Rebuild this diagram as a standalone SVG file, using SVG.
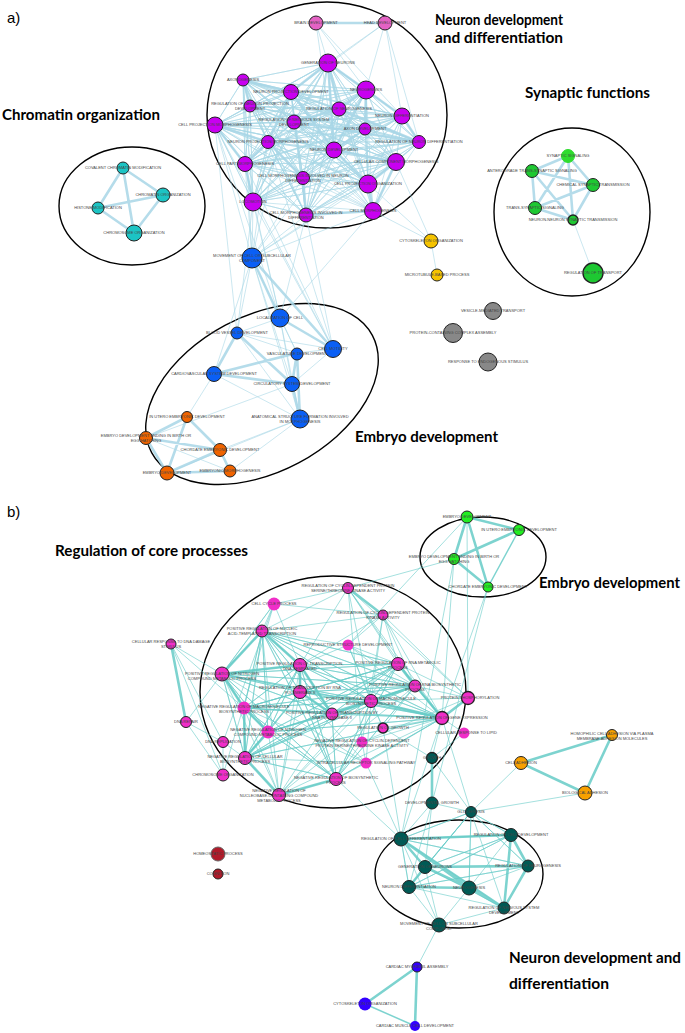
<svg xmlns="http://www.w3.org/2000/svg" width="685" height="1033" viewBox="0 0 685 1033">
<style>
.ea{fill:none;stroke:#a8d6e6;stroke-linejoin:round;stroke-linecap:round}
.eb{fill:none;stroke:#66cbc7;stroke-linejoin:round;stroke-linecap:round}
.w1{stroke-width:0.8;stroke-opacity:0.75}
.w2{stroke-width:1.5;stroke-opacity:0.85}
.w3{stroke-width:2.6;stroke-opacity:0.85}
.cl{fill:none;stroke:#000;stroke-width:1.4}
circle{stroke:#222;stroke-width:1}
text.l{font-family:"Liberation Sans",Arial,sans-serif;font-size:4px;fill:#444;text-anchor:middle}
text.t{font-family:Lato,"Open Sans","Liberation Sans",sans-serif;font-size:14.5px;font-weight:bold;fill:#000}
text.p{font-family:"Liberation Sans",Arial,sans-serif;font-size:15px;fill:#000}
.pu{fill:#c800f0}.pk{fill:#e462c4}.cy{fill:#1cc4c4}.gr{fill:#1ec832}.ye{fill:#f5c300}.gy{fill:#888}.bl{fill:#0a5ff5}.or{fill:#f06400}
.mg{fill:#f02ec8}.lg{fill:#22ee22}.og{fill:#f7a000}.te{fill:#005a55}.rd{fill:#b01a2a}.vi{fill:#3300ff}
</style>
<rect width="685" height="1033" fill="#fff"/>
<text class="p" x="7" y="23">a)</text>
<text class="p" x="7" y="517">b)</text>
<g id="cluster-outlines">
<ellipse class="cl" cx="327" cy="115" rx="120" ry="113"/>
<ellipse class="cl" cx="132" cy="206" rx="73" ry="59"/>
<ellipse class="cl" cx="572" cy="212" rx="78" ry="84"/>
<ellipse class="cl" cx="262" cy="394" rx="125" ry="78" transform="rotate(-28 262 394)"/>
<ellipse class="cl" cx="333" cy="692" rx="133" ry="116"/>
<ellipse class="cl" cx="483" cy="557" rx="63" ry="40"/>
<ellipse class="cl" cx="459" cy="874" rx="84" ry="54"/>
</g>
<g id="titles">
<text class="t" x="435" y="25" textLength="128" lengthAdjust="spacingAndGlyphs">Neuron development</text>
<text class="t" x="435" y="43" textLength="128" lengthAdjust="spacingAndGlyphs">and differentiation</text>
<text class="t" x="525" y="98" textLength="125" lengthAdjust="spacingAndGlyphs">Synaptic functions</text>
<text class="t" x="2" y="120" textLength="158" lengthAdjust="spacingAndGlyphs">Chromatin organization</text>
<text class="t" x="355" y="442" textLength="143" lengthAdjust="spacingAndGlyphs">Embryo development</text>
<text class="t" x="55" y="556" textLength="193" lengthAdjust="spacingAndGlyphs">Regulation of core processes</text>
<text class="t" x="539" y="588" textLength="141" lengthAdjust="spacingAndGlyphs">Embryo development</text>
<text class="t" x="509" y="963" textLength="172" lengthAdjust="spacingAndGlyphs">Neuron development and</text>
<text class="t" x="509" y="989" textLength="100" lengthAdjust="spacingAndGlyphs">differentiation</text>
</g>
<g id="connectors">
<path class="ea w1" d="M328 63 243 80 328 63 366 90 328 63 291 92 328 63 250 106 328 63 339 109 328 63 402 116 328 63 215 125 328 63 294 122 328 63 365 129 328 63 419 142 328 63 268 142 328 63 334 150 328 63 396 162 328 63 245 164 328 63 303 178 328 63 368 184 328 63 253 202 328 63 306 215 328 63 373 211
M243 80 366 90 243 80 291 92 243 80 250 106 243 80 339 109 243 80 402 116 243 80 215 125 243 80 294 122 243 80 365 129 243 80 419 142 243 80 268 142 243 80 334 150 243 80 396 162 243 80 245 164 243 80 303 178 243 80 368 184 243 80 253 202 243 80 306 215 243 80 373 211
M366 90 291 92 366 90 250 106 366 90 339 109 366 90 402 116 366 90 215 125 366 90 294 122 366 90 365 129 366 90 419 142 366 90 268 142 366 90 334 150 366 90 396 162 366 90 245 164 366 90 303 178 366 90 368 184 366 90 253 202 366 90 306 215 366 90 373 211
M291 92 250 106 291 92 339 109 291 92 402 116 291 92 215 125 291 92 294 122 291 92 365 129 291 92 419 142 291 92 268 142 291 92 334 150 291 92 396 162 291 92 245 164 291 92 303 178 291 92 368 184 291 92 253 202 291 92 306 215 291 92 373 211
M250 106 339 109 250 106 402 116 250 106 215 125 250 106 294 122 250 106 365 129 250 106 419 142 250 106 268 142 250 106 334 150 250 106 396 162 250 106 245 164 250 106 303 178 250 106 368 184 250 106 253 202 250 106 306 215 250 106 373 211
M339 109 402 116 339 109 215 125 339 109 294 122 339 109 365 129 339 109 419 142 339 109 268 142 339 109 334 150 339 109 396 162 339 109 245 164 339 109 303 178 339 109 368 184 339 109 253 202 339 109 306 215 339 109 373 211
M402 116 215 125 402 116 294 122 402 116 365 129 402 116 419 142 402 116 268 142 402 116 334 150 402 116 396 162 402 116 245 164 402 116 303 178 402 116 368 184 402 116 253 202 402 116 306 215 402 116 373 211
M215 125 294 122 215 125 365 129 215 125 419 142 215 125 268 142 215 125 334 150 215 125 396 162 215 125 245 164 215 125 303 178 215 125 368 184 215 125 253 202 215 125 306 215 215 125 373 211
M294 122 365 129 294 122 419 142 294 122 268 142 294 122 334 150 294 122 396 162 294 122 245 164 294 122 303 178 294 122 368 184 294 122 253 202 294 122 306 215 294 122 373 211
M365 129 419 142 365 129 268 142 365 129 334 150 365 129 396 162 365 129 245 164 365 129 303 178 365 129 368 184 365 129 253 202 365 129 306 215 365 129 373 211
M419 142 268 142 419 142 334 150 419 142 396 162 419 142 245 164 419 142 303 178 419 142 368 184 419 142 253 202 419 142 306 215 419 142 373 211
M268 142 334 150 268 142 396 162 268 142 245 164 268 142 303 178 268 142 368 184 268 142 253 202 268 142 306 215 268 142 373 211
M334 150 396 162 334 150 245 164 334 150 303 178 334 150 368 184 334 150 253 202 334 150 306 215 334 150 373 211
M396 162 245 164 396 162 303 178 396 162 368 184 396 162 253 202 396 162 306 215 396 162 373 211
M245 164 303 178 245 164 368 184 245 164 253 202 245 164 306 215 245 164 373 211
M303 178 368 184 303 178 253 202 303 178 306 215 303 178 373 211
M368 184 253 202 368 184 306 215 368 184 373 211 M253 202 306 215 253 202 373 211 M306 215 373 211
M316 23 328 63 M316 23 366 90 M316 23 402 116 M316 23 334 150 M385 23 328 63 M385 23 366 90 M385 23 402 116 M385 23 419 142 M385 23 291 92
M252 258 215 125 M252 258 245 164 M252 258 253 202 M252 258 268 142 M252 258 306 215 M252 258 303 178 M252 258 373 211 M252 258 368 184 M252 258 334 150 M252 258 396 162 M252 258 291 92 M252 258 243 80
M280 318 253 202 M280 318 306 215 M280 318 245 164 M280 318 373 211 M280 318 215 125 M333 349 253 202 M333 349 245 164 M333 349 306 215 M333 349 215 125 M333 349 268 142 M237 333 253 202 M237 333 215 125
M431 241 368 184 M431 241 396 162 M431 241 373 211 M431 241 437 275
M252 258 237 333 M252 258 297 353 M252 258 214 374 M252 258 300 419 M252 258 292 384
M237 333 280 318 M237 333 333 349 M237 333 297 353 M280 318 297 353 M280 318 292 384 M297 353 333 349 M280 318 300 419 M214 374 187 417 M292 384 146 438 M300 419 220 450 M300 419 230 471 M300 419 167 473 M214 374 300 419 M146 438 230 471 M237 333 300 419 M333 349 292 384
M573 220 593 273"/>
<path class="ea w3" d="M316 23 385 23 M328 63 366 90 M328 63 291 92 M328 63 334 150 M328 63 402 116 M366 90 402 116 M366 90 334 150 M366 90 365 129 M291 92 268 142 M291 92 334 150 M291 92 243 80 M268 142 245 164 M215 125 245 164 M215 125 268 142 M334 150 365 129 M334 150 396 162 M396 162 373 211 M368 184 373 211 M368 184 396 162 M303 178 306 215 M303 178 268 142 M339 109 294 122 M339 109 419 142 M294 122 419 142 M402 116 419 142 M253 202 245 164 M306 215 373 211 M334 150 368 184 M243 80 250 106 M328 63 339 109 M366 90 339 109
M252 258 280 318 M252 258 333 349 M280 318 333 349 M237 333 214 374 M237 333 292 384 M297 353 214 374 M214 374 292 384 M292 384 297 353 M297 353 300 419 M292 384 300 419 M187 417 146 438 M146 438 220 450 M146 438 167 473 M187 417 167 473 M220 450 230 471 M167 473 230 471 M187 417 220 450 M220 450 167 473
M123 168 163 195 M123 168 98 208 M123 168 134 233 M163 195 98 208 M163 195 134 233 M98 208 134 233
M568 156 532 171 M568 156 593 185 M568 156 535 208 M568 156 573 220 M532 171 593 185 M532 171 535 208 M532 171 573 220 M593 185 535 208 M593 185 573 220 M535 208 573 220"/>
<path class="eb w1" d="M262 631 300 665 262 631 398 664 262 631 222 674 262 631 415 686 262 631 300 692 262 631 371 701 262 631 244 708 262 631 332 714 262 631 442 718 262 631 268 732 262 631 245 758 262 631 336 779 262 631 279 795
M300 665 398 664 300 665 222 674 300 665 415 686 300 665 300 692 300 665 371 701 300 665 244 708 300 665 332 714 300 665 442 718 300 665 268 732 300 665 245 758 300 665 336 779 300 665 279 795
M398 664 222 674 398 664 415 686 398 664 300 692 398 664 371 701 398 664 244 708 398 664 332 714 398 664 442 718 398 664 268 732 398 664 245 758 398 664 336 779 398 664 279 795
M222 674 415 686 222 674 300 692 222 674 371 701 222 674 244 708 222 674 332 714 222 674 442 718 222 674 268 732 222 674 245 758 222 674 336 779 222 674 279 795
M415 686 300 692 415 686 371 701 415 686 244 708 415 686 332 714 415 686 442 718 415 686 268 732 415 686 245 758 415 686 336 779 415 686 279 795
M300 692 371 701 300 692 244 708 300 692 332 714 300 692 442 718 300 692 268 732 300 692 245 758 300 692 336 779 300 692 279 795
M371 701 244 708 371 701 332 714 371 701 442 718 371 701 268 732 371 701 245 758 371 701 336 779 371 701 279 795
M244 708 332 714 244 708 442 718 244 708 268 732 244 708 245 758 244 708 336 779 244 708 279 795
M332 714 442 718 332 714 268 732 332 714 245 758 332 714 336 779 332 714 279 795
M442 718 268 732 442 718 245 758 442 718 336 779 442 718 279 795 M268 732 245 758 268 732 336 779 268 732 279 795 M245 758 336 779 245 758 279 795 M336 779 279 795
M348 588 274 604 M348 588 262 631 M348 588 300 665 M348 588 398 664 M348 588 442 718 M348 588 468 698 M348 588 362 742 M348 588 415 686 M348 588 371 701 M348 588 454 559
M383 615 274 604 M383 615 262 631 M383 615 300 665 M383 615 398 664 M383 615 415 686 M383 615 371 701 M383 615 442 718 M383 615 468 698 M383 615 362 742 M383 615 348 645
M274 604 262 631 M274 604 222 674 M274 604 186 722 M274 604 223 742 M274 604 223 775 M274 604 300 665
M348 645 262 631 M348 645 300 665 M348 645 398 664 M348 645 442 718 M348 645 371 701 M348 645 383 728 M348 645 415 686
M171 644 223 742 M171 644 223 775 M171 644 222 674 M171 644 244 708 M186 722 223 742 M186 722 223 775 M223 742 223 775 M223 742 245 758
M362 742 468 698 M362 742 442 718 M362 742 366 763 M362 742 336 779
M366 763 442 718 M366 763 244 708 M366 763 245 758 M366 763 336 779 M366 763 222 674 M366 763 371 701 M366 763 300 692
M383 728 442 718 M383 728 432 758 M383 728 371 701 M383 728 415 686 M468 698 415 686 M468 698 398 664 M468 698 371 701 M464 733 442 718 M464 733 432 758
M432 758 442 718 M432 758 471 812 M442 718 471 812 M442 718 401 839 M383 728 401 839 M366 763 401 839 M336 779 401 839
M521 763 471 812 M585 793 471 812
M467 517 348 645 M454 559 442 718 M488 587 442 718 M467 517 468 698 M454 559 401 839 M488 587 432 803
M471 812 401 839 471 812 511 835 471 812 425 867 471 812 528 866 471 812 409 887 471 812 469 888 471 812 504 908
M401 839 511 835 401 839 528 866 401 839 409 887 401 839 504 908 M511 835 425 867 511 835 409 887 511 835 469 888
M425 867 504 908 M528 866 409 887 528 866 469 888 M409 887 504 908
M432 803 401 839 M432 803 425 867 M432 803 409 887 M432 803 471 812
M439 925 409 887 M439 925 425 867 M439 925 401 839 M439 925 469 888 M439 925 504 908
M439 925 417 967"/>
<path class="eb w3" d="M262 631 222 674 M262 631 300 665 M300 665 300 692 M300 692 332 714 M398 664 415 686 M415 686 371 701 M371 701 442 718 M332 714 371 701 M244 708 268 732 M268 732 245 758 M245 758 279 795 M336 779 279 795 M244 708 245 758 M300 665 332 714 M222 674 244 708 M222 674 300 665 M442 718 398 664
M348 588 383 615 M468 698 442 718 M171 644 186 722 M432 758 432 803
M521 763 612 735 M521 763 585 793 M612 735 585 793
M467 517 519 530 M467 517 454 559 M467 517 488 587 M519 530 454 559 M454 559 488 587
M401 839 511 835 M401 839 425 867 M425 867 469 888 M469 888 504 908 M511 835 528 866 M425 867 409 887 M401 839 469 888 M409 887 469 888 M511 835 504 908 M528 866 504 908 M425 867 528 866 M401 839 504 908
M417 967 365 1004 M417 967 415 1026"/>
<path class="eb w2" d="M365 1004 415 1026 M519 530 488 587"/>
</g>
<g id="nodes-a">
<g id="a-brain-development"><circle class="pk" cx="316" cy="23" r="7"/><text class="l" x="316" y="24.4">BRAIN DEVELOPMENT</text></g>
<g id="a-head-development"><circle class="pk" cx="385" cy="23" r="7"/><text class="l" x="385" y="24.4">HEAD DEVELOPMENT</text></g>
<g id="a-generation-of-neurons"><circle class="pu" cx="328" cy="63" r="9"/><text class="l" x="328" y="64.4">GENERATION OF NEURONS</text></g>
<g id="a-axonogenesis"><circle class="pu" cx="243" cy="80" r="6"/><text class="l" x="243" y="81.4">AXONOGENESIS</text></g>
<g id="a-neurogenesis"><circle class="pu" cx="366" cy="90" r="9"/><text class="l" x="366" y="91.4">NEUROGENESIS</text></g>
<g id="a-neuron-projection-development"><circle class="pu" cx="291" cy="92" r="7.5"/><text class="l" x="291" y="93.4">NEURON PROJECTION DEVELOPMENT</text></g>
<g id="a-reg-neuron-projection-development"><circle class="pu" cx="250" cy="106" r="6"/><text class="l" x="250" y="105">REGULATION OF NEURON PROJECTION</text><text class="l" x="250" y="110.3">DEVELOPMENT</text></g>
<g id="a-reg-neurogenesis"><circle class="pu" cx="339" cy="109" r="7"/><text class="l" x="339" y="110.4">REGULATION OF NEUROGENESIS</text></g>
<g id="a-neuron-differentiation"><circle class="pu" cx="402" cy="116" r="8"/><text class="l" x="402" y="117.4">NEURON DIFFERENTIATION</text></g>
<g id="a-projection-morphogenesis"><circle class="pu" cx="215" cy="125" r="8"/><text class="l" x="215" y="126.4">CELL PROJECTION MORPHOGENESIS</text></g>
<g id="a-reg-nervous-system-development"><circle class="pu" cx="294" cy="122" r="7"/><text class="l" x="294" y="121">REGULATION OF NERVOUS SYSTEM</text><text class="l" x="294" y="126.3">DEVELOPMENT</text></g>
<g id="a-axon-development"><circle class="pu" cx="365" cy="129" r="6"/><text class="l" x="365" y="130.4">AXON DEVELOPMENT</text></g>
<g id="a-reg-neuron-differentiation"><circle class="pu" cx="419" cy="142" r="6.5"/><text class="l" x="419" y="143.4">REGULATION OF NEURON DIFFERENTIATION</text></g>
<g id="a-neuron-projection-morphogenesis"><circle class="pu" cx="268" cy="142" r="6.5"/><text class="l" x="268" y="143.4">NEURON PROJECTION MORPHOGENESIS</text></g>
<g id="a-neuron-development"><circle class="pu" cx="334" cy="150" r="8"/><text class="l" x="334" y="151.4">NEURON DEVELOPMENT</text></g>
<g id="a-cellular-component-morphogenesis"><circle class="pu" cx="396" cy="162" r="8.5"/><text class="l" x="396" y="163.4">CELLULAR COMPONENT MORPHOGENESIS</text></g>
<g id="a-cell-part-morphogenesis"><circle class="pu" cx="245" cy="164" r="7.5"/><text class="l" x="245" y="165.4">CELL PART MORPHOGENESIS</text></g>
<g id="a-cell-morph-neuron-diff"><circle class="pu" cx="303" cy="178" r="6.5"/><text class="l" x="303" y="177">CELL MORPHOGENESIS INVOLVED IN NEURON</text><text class="l" x="303" y="182.3">DIFFERENTIATION</text></g>
<g id="a-cell-projection-organization"><circle class="pu" cx="368" cy="184" r="9"/><text class="l" x="368" y="185.4">CELL PROJECTION ORGANIZATION</text></g>
<g id="a-locomotion"><circle class="pu" cx="253" cy="202" r="9"/><text class="l" x="253" y="203.4">LOCOMOTION</text></g>
<g id="a-cell-morph-diff"><circle class="pu" cx="306" cy="215" r="7"/><text class="l" x="306" y="214">CELL MORPHOGENESIS INVOLVED IN</text><text class="l" x="306" y="219.3">DIFFERENTIATION</text></g>
<g id="a-cell-morphogenesis"><circle class="pu" cx="373" cy="211" r="8.5"/><text class="l" x="373" y="212.4">CELL MORPHOGENESIS</text></g>
<g id="a-covalent-chromatin-modification"><circle class="cy" cx="123" cy="168" r="6"/><text class="l" x="123" y="169.4">COVALENT CHROMATIN MODIFICATION</text></g>
<g id="a-chromatin-organization"><circle class="cy" cx="163" cy="195" r="7"/><text class="l" x="163" y="196.4">CHROMATIN ORGANIZATION</text></g>
<g id="a-histone-modification"><circle class="cy" cx="98" cy="208" r="6"/><text class="l" x="98" y="209.4">HISTONE MODIFICATION</text></g>
<g id="a-chromosome-organization"><circle class="cy" cx="134" cy="233" r="8"/><text class="l" x="134" y="234.4">CHROMOSOME ORGANIZATION</text></g>
<g id="a-synaptic-signaling"><circle class="gr" cx="568" cy="156" r="6.5" style="fill:#2edc2e;stroke:#2edc2e"/><text class="l" x="568" y="157.4">SYNAPTIC SIGNALING</text></g>
<g id="a-anterograde"><circle class="gr" cx="532" cy="171" r="6.5"/><text class="l" x="532" y="172.4">ANTEROGRADE TRANS-SYNAPTIC SIGNALING</text></g>
<g id="a-chemical-synaptic-transmission"><circle class="gr" cx="593" cy="185" r="6.5"/><text class="l" x="593" y="186.4">CHEMICAL SYNAPTIC TRANSMISSION</text></g>
<g id="a-trans-synaptic-signaling"><circle class="gr" cx="535" cy="208" r="6.5"/><text class="l" x="535" y="209.4">TRANS-SYNAPTIC SIGNALING</text></g>
<g id="a-neuron-neuron"><circle class="gr" cx="573" cy="220" r="5" style="stroke-width:1.4"/><text class="l" x="573" y="221.4">NEURON-NEURON SYNAPTIC TRANSMISSION</text></g>
<g id="a-regulation-of-transport"><circle class="gr" cx="593" cy="273" r="10" style="stroke-width:1.4"/><text class="l" x="593" y="274.4">REGULATION OF TRANSPORT</text></g>
<g id="a-movement"><circle class="bl" cx="252" cy="258" r="10"/><text class="l" x="252" y="257">MOVEMENT OF CELL OR SUBCELLULAR</text><text class="l" x="252" y="262.3">COMPONENT</text></g>
<g id="a-cytoskeleton-organization"><circle class="ye" cx="431" cy="241" r="7"/><text class="l" x="431" y="242.4">CYTOSKELETON ORGANIZATION</text></g>
<g id="a-microtubule-based-process"><circle class="ye" cx="437" cy="275" r="6"/><text class="l" x="437" y="276.4">MICROTUBULE-BASED PROCESS</text></g>
<g id="a-vesicle-mediated-transport"><circle class="gy" cx="493" cy="311" r="8.5"/><text class="l" x="493" y="312.4">VESICLE-MEDIATED TRANSPORT</text></g>
<g id="a-protein-complex-assembly"><circle class="gy" cx="453" cy="333" r="9.5"/><text class="l" x="453" y="334.4">PROTEIN-CONTAINING COMPLEX ASSEMBLY</text></g>
<g id="a-response-endogenous"><circle class="gy" cx="488" cy="362" r="9"/><text class="l" x="488" y="363.4">RESPONSE TO ENDOGENOUS STIMULUS</text></g>
<g id="a-localization-of-cell"><circle class="bl" cx="280" cy="318" r="9"/><text class="l" x="280" y="319.4">LOCALIZATION OF CELL</text></g>
<g id="a-blood-vessel-development"><circle class="bl" cx="237" cy="333" r="6"/><text class="l" x="237" y="334.4">BLOOD VESSEL DEVELOPMENT</text></g>
<g id="a-cell-motility"><circle class="bl" cx="333" cy="349" r="8.5"/><text class="l" x="333" y="350.4">CELL MOTILITY</text></g>
<g id="a-vasculature-development"><circle class="bl" cx="297" cy="354" r="6"/><text class="l" x="297" y="355.4">VASCULATURE DEVELOPMENT</text></g>
<g id="a-cardiovascular"><circle class="bl" cx="214" cy="374" r="7.5"/><text class="l" x="214" y="375.4">CARDIOVASCULAR SYSTEM DEVELOPMENT</text></g>
<g id="a-circulatory"><circle class="bl" cx="292" cy="384" r="7.5"/><text class="l" x="292" y="385.4">CIRCULATORY SYSTEM DEVELOPMENT</text></g>
<g id="a-anatomical"><circle class="bl" cx="300" cy="419" r="9"/><text class="l" x="300" y="418">ANATOMICAL STRUCTURE FORMATION INVOLVED</text><text class="l" x="300" y="423.3">IN MORPHOGENESIS</text></g>
<g id="a-in-utero"><circle class="or" cx="187" cy="417" r="5.5"/><text class="l" x="187" y="418.4">IN UTERO EMBRYONIC DEVELOPMENT</text></g>
<g id="a-embryo-ending"><circle class="or" cx="146" cy="438" r="6.5"/><text class="l" x="146" y="437">EMBRYO DEVELOPMENT ENDING IN BIRTH OR</text><text class="l" x="146" y="442.3">EGG HATCHING</text></g>
<g id="a-chordate"><circle class="or" cx="220" cy="450" r="6.5"/><text class="l" x="220" y="451.4">CHORDATE EMBRYONIC DEVELOPMENT</text></g>
<g id="a-embryonic-morphogenesis"><circle class="or" cx="230" cy="471" r="6"/><text class="l" x="230" y="472.4">EMBRYONIC MORPHOGENESIS</text></g>
<g id="a-embryo-development"><circle class="or" cx="167" cy="473" r="7"/><text class="l" x="167" y="474.4">EMBRYO DEVELOPMENT</text></g>
</g>
<g id="nodes-b">
<g id="b-embryo-development"><circle class="lg" cx="467" cy="517" r="6"/><text class="l" x="467" y="518.4">EMBRYO DEVELOPMENT</text></g>
<g id="b-in-utero"><circle class="lg" cx="519" cy="530" r="5.5"/><text class="l" x="519" y="531.4">IN UTERO EMBRYONIC DEVELOPMENT</text></g>
<g id="b-embryo-ending"><circle class="lg" cx="454" cy="559" r="5.5"/><text class="l" x="454" y="558">EMBRYO DEVELOPMENT ENDING IN BIRTH OR</text><text class="l" x="454" y="563.3">EGG HATCHING</text></g>
<g id="b-chordate"><circle class="lg" cx="488" cy="587" r="5"/><text class="l" x="488" y="588.4">CHORDATE EMBRYONIC DEVELOPMENT</text></g>
<g id="b-reg-cdk-st"><circle class="mg" cx="348" cy="588" r="5.5"/><text class="l" x="348" y="586.5">REGULATION OF CYCLIN-DEPENDENT PROTEIN</text><text class="l" x="348" y="591.8">SERINE/THREONINE KINASE ACTIVITY</text></g>
<g id="b-cell-cycle-process"><circle class="mg" cx="274" cy="604" r="6.5" style="stroke:none"/><text class="l" x="274" y="605.4">CELL CYCLE PROCESS</text></g>
<g id="b-reg-cdk"><circle class="mg" cx="383" cy="615" r="5"/><text class="l" x="383" y="613.5">REGULATION OF CYCLIN-DEPENDENT PROTEIN</text><text class="l" x="383" y="618.8">KINASE ACTIVITY</text></g>
<g id="b-pos-reg-nucleic"><circle class="mg" cx="262" cy="631" r="6"/><text class="l" x="262" y="629.5">POSITIVE REGULATION OF NUCLEIC</text><text class="l" x="262" y="634.8">ACID-TEMPLATED TRANSCRIPTION</text></g>
<g id="b-dna-damage"><circle class="mg" cx="171" cy="644" r="5"/><text class="l" x="171" y="642.5">CELLULAR RESPONSE TO DNA DAMAGE</text><text class="l" x="171" y="647.8">STIMULUS</text></g>
<g id="b-reproductive"><circle class="mg" cx="348" cy="645" r="5.5" style="stroke:none"/><text class="l" x="348" y="646.4">REPRODUCTIVE STRUCTURE DEVELOPMENT</text></g>
<g id="b-pos-reg-transcription"><circle class="mg" cx="300" cy="665" r="6.5"/><text class="l" x="300" y="664.5">POSITIVE REGULATION OF TRANSCRIPTION,</text><text class="l" x="300" y="669.8">DNA-TEMPLATED</text></g>
<g id="b-pos-reg-rna-metabolic"><circle class="mg" cx="398" cy="664" r="6.5"/><text class="l" x="398" y="663.5">POSITIVE REGULATION OF RNA METABOLIC</text><text class="l" x="398" y="668.8">PROCESS</text></g>
<g id="b-pos-reg-nitrogen"><circle class="mg" cx="222" cy="674" r="7"/><text class="l" x="222" y="675">POSITIVE REGULATION OF NITROGEN</text><text class="l" x="222" y="680.3">COMPOUND METABOLIC PROCESS</text></g>
<g id="b-pos-reg-rna-biosynthetic"><circle class="mg" cx="415" cy="686" r="6"/><text class="l" x="415" y="686">POSITIVE REGULATION OF RNA BIOSYNTHETIC</text><text class="l" x="415" y="691.3">PROCESS</text></g>
<g id="b-reg-transcription-pol2"><circle class="mg" cx="300" cy="692" r="6.5"/><text class="l" x="300" y="688.5">REGULATION OF TRANSCRIPTION BY RNA</text><text class="l" x="300" y="693.8">POLYMERASE II</text></g>
<g id="b-protein-phosphorylation"><circle class="mg" cx="468" cy="698" r="6.5" style="stroke-width:1.3"/><text class="l" x="470" y="699.4">PROTEIN PHOSPHORYLATION</text></g>
<g id="b-pos-reg-macromolecule"><circle class="mg" cx="371" cy="701" r="6.5"/><text class="l" x="371" y="699.5">POSITIVE REGULATION OF MACROMOLECULE</text><text class="l" x="371" y="704.8">BIOSYNTHETIC PROCESS</text></g>
<g id="b-neg-reg-macromolecule"><circle class="mg" cx="244" cy="708" r="6.5" style="stroke:none"/><text class="l" x="244" y="707.5">NEGATIVE REGULATION OF MACROMOLECULE</text><text class="l" x="244" y="712.8">BIOSYNTHETIC PROCESS</text></g>
<g id="b-pos-reg-transcription-pol2"><circle class="mg" cx="332" cy="714" r="6"/><text class="l" x="332" y="714">POSITIVE REGULATION OF TRANSCRIPTION BY</text><text class="l" x="332" y="719.3">RNA POLYMERASE II</text></g>
<g id="b-pos-reg-gene-expression"><circle class="mg" cx="442" cy="718" r="6.5" style="stroke-width:1.3"/><text class="l" x="442" y="719.4">POSITIVE REGULATION OF GENE EXPRESSION</text></g>
<g id="b-dna-repair"><circle class="mg" cx="186" cy="722" r="5.5"/><text class="l" x="186" y="723.4">DNA REPAIR</text></g>
<g id="b-regulation-of-growth"><circle class="mg" cx="383" cy="728" r="5" style="stroke-width:1.5"/><text class="l" x="383" y="729.4">REGULATION OF GROWTH</text></g>
<g id="b-neg-reg-nitrogen"><circle class="mg" cx="268" cy="732" r="6.5" style="stroke:none"/><text class="l" x="268" y="730.5">NEGATIVE REGULATION OF NITROGEN</text><text class="l" x="268" y="735.8">COMPOUND METABOLIC PROCESS</text></g>
<g id="b-response-to-lipid"><circle class="mg" cx="464" cy="733" r="5.5" style="stroke:none"/><text class="l" x="466" y="734.4">CELLULAR RESPONSE TO LIPID</text></g>
<g id="b-dna-replication"><circle class="mg" cx="223" cy="742" r="5.5"/><text class="l" x="223" y="743.4">DNA REPLICATION</text></g>
<g id="b-neg-reg-cdk"><circle class="mg" cx="362" cy="742" r="5.5" style="stroke:none"/><text class="l" x="362" y="741.5">NEGATIVE REGULATION OF CYCLIN-DEPENDENT</text><text class="l" x="362" y="746.8">PROTEIN SERINE/THREONINE KINASE ACTIVITY</text></g>
<g id="b-neg-reg-cellular-biosynthetic"><circle class="mg" cx="245" cy="758" r="6.5"/><text class="l" x="245" y="757.5">NEGATIVE REGULATION OF CELLULAR</text><text class="l" x="245" y="762.8">BIOSYNTHETIC PROCESS</text></g>
<g id="b-intracellular-receptor"><circle class="mg" cx="366" cy="763" r="5.5" style="stroke:none"/><text class="l" x="366" y="764.4">INTRACELLULAR RECEPTOR SIGNALING PATHWAY</text></g>
<g id="b-growth"><circle class="te" cx="432" cy="758" r="5.5" style="stroke-width:1.3"/><text class="l" x="432" y="759.4">GROWTH</text></g>
<g id="b-chromosome-organization"><circle class="mg" cx="223" cy="775" r="6"/><text class="l" x="223" y="776.4">CHROMOSOME ORGANIZATION</text></g>
<g id="b-neg-reg-biosynthetic"><circle class="mg" cx="336" cy="779" r="6.5"/><text class="l" x="336" y="778.5">NEGATIVE REGULATION OF BIOSYNTHETIC</text><text class="l" x="336" y="783.8">PROCESS</text></g>
<g id="b-neg-reg-nucleobase"><circle class="mg" cx="279" cy="795" r="6.5"/><text class="l" x="279" y="791.5">NEGATIVE REGULATION OF</text><text class="l" x="279" y="796.8">NUCLEOBASE-CONTAINING COMPOUND</text><text class="l" x="279" y="802.1">METABOLIC PROCESS</text></g>
<g id="b-homophilic"><circle class="og" cx="612" cy="735" r="5.5"/><text class="l" x="612" y="734.5">HOMOPHILIC CELL ADHESION VIA PLASMA</text><text class="l" x="612" y="739.8">MEMBRANE ADHESION MOLECULES</text></g>
<g id="b-cell-adhesion"><circle class="og" cx="521" cy="763" r="6.5"/><text class="l" x="521" y="764.4">CELL ADHESION</text></g>
<g id="b-biological-adhesion"><circle class="og" cx="585" cy="793" r="7"/><text class="l" x="585" y="794.4">BIOLOGICAL ADHESION</text></g>
<g id="b-developmental-growth"><circle class="te" cx="432" cy="803" r="6"/><text class="l" x="432" y="804.4">DEVELOPMENTAL GROWTH</text></g>
<g id="b-gliogenesis"><circle class="te" cx="471" cy="812" r="5.5"/><text class="l" x="471" y="813.4">GLIOGENESIS</text></g>
<g id="b-reg-cell-differentiation"><circle class="te" cx="401" cy="839" r="7"/><text class="l" x="401" y="840.4">REGULATION OF CELL DIFFERENTIATION</text></g>
<g id="b-reg-cell-development"><circle class="te" cx="511" cy="835" r="6.5"/><text class="l" x="511" y="836.4">REGULATION OF CELL DEVELOPMENT</text></g>
<g id="b-generation-of-neurons"><circle class="te" cx="425" cy="867" r="6.5"/><text class="l" x="425" y="868.4">GENERATION OF NEURONS</text></g>
<g id="b-reg-neurogenesis"><circle class="te" cx="528" cy="866" r="6"/><text class="l" x="528" y="867.4">REGULATION OF NEUROGENESIS</text></g>
<g id="b-neuron-differentiation"><circle class="te" cx="409" cy="887" r="6.5"/><text class="l" x="409" y="888.4">NEURON DIFFERENTIATION</text></g>
<g id="b-neurogenesis"><circle class="te" cx="469" cy="888" r="7"/><text class="l" x="469" y="889.4">NEUROGENESIS</text></g>
<g id="b-reg-nervous-system"><circle class="te" cx="504" cy="908" r="6"/><text class="l" x="504" y="908.5">REGULATION OF NERVOUS SYSTEM</text><text class="l" x="504" y="913.8">DEVELOPMENT</text></g>
<g id="b-movement"><circle class="te" cx="439" cy="925" r="7"/><text class="l" x="439" y="924.5">MOVEMENT OF CELL OR SUBCELLULAR</text><text class="l" x="439" y="929.8">COMPONENT</text></g>
<g id="b-homeostatic-process"><circle class="rd" cx="218" cy="854" r="7" style="stroke:#666"/><text class="l" x="218" y="855.4">HOMEOSTATIC PROCESS</text></g>
<g id="b-cognition"><circle class="rd" cx="218" cy="874" r="5"/><text class="l" x="218" y="875.4">COGNITION</text></g>
<g id="b-cardiac-myofibril"><circle class="vi" cx="417" cy="967" r="5"/><text class="l" x="417" y="968.4">CARDIAC MYOFIBRIL ASSEMBLY</text></g>
<g id="b-cytoskeleton-organization"><circle class="vi" cx="365" cy="1004" r="6.5" style="stroke:none"/><text class="l" x="365" y="1005.4">CYTOSKELETON ORGANIZATION</text></g>
<g id="b-cardiac-muscle-cell"><circle class="vi" cx="415" cy="1026" r="5" style="stroke:none"/><text class="l" x="415" y="1027.4">CARDIAC MUSCLE CELL DEVELOPMENT</text></g>
</g>
</svg>
